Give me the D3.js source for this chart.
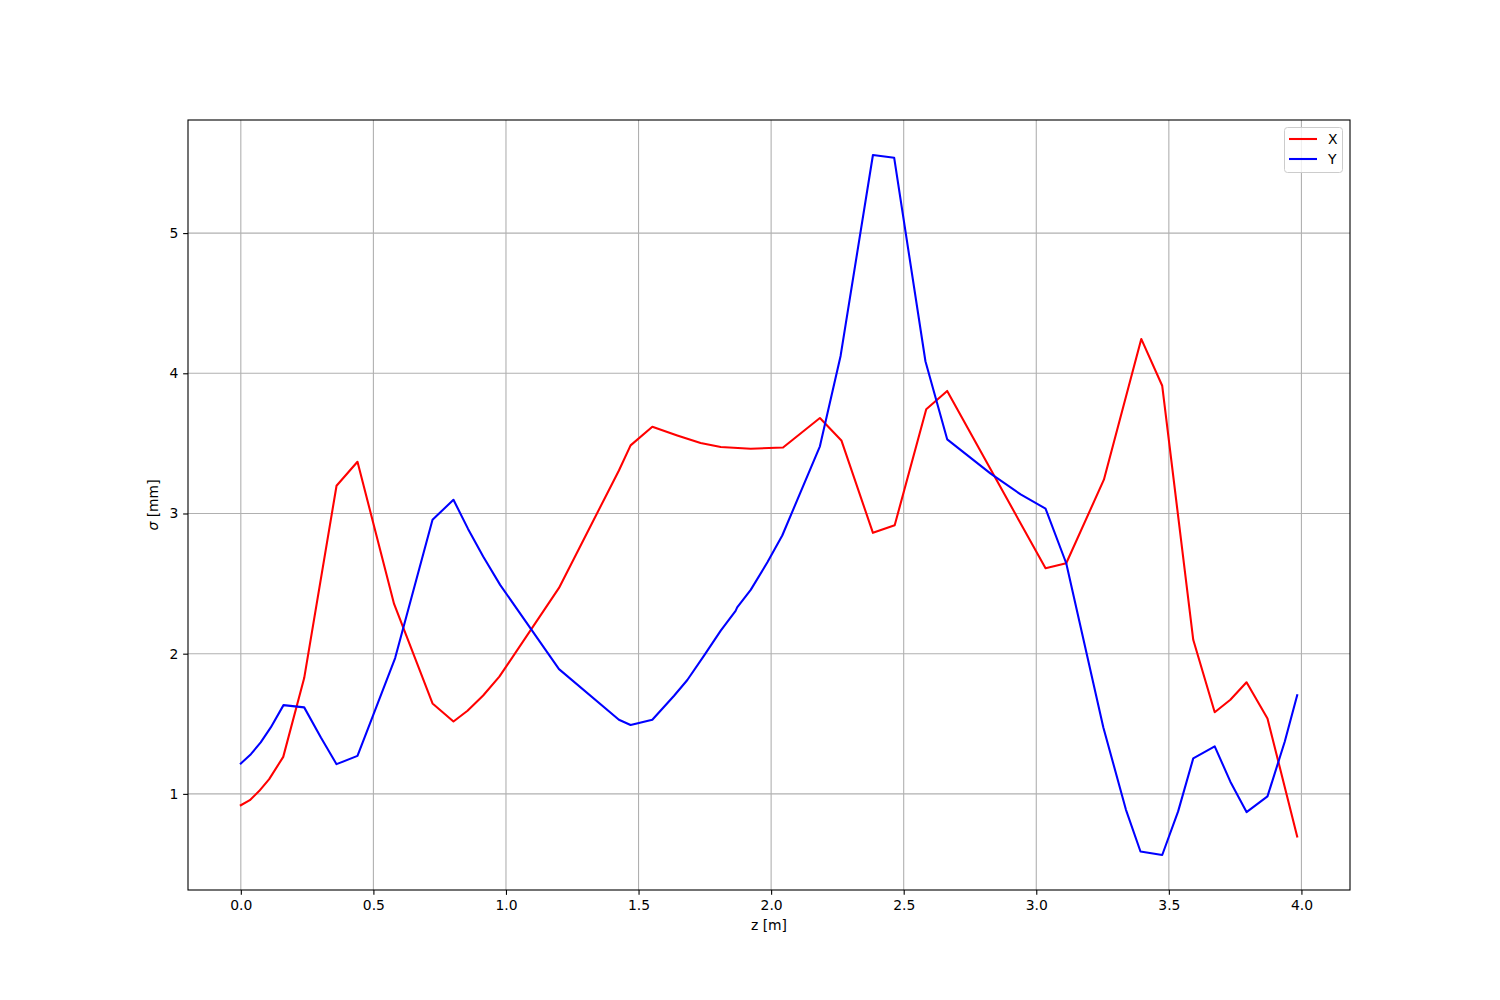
<!DOCTYPE html>
<html><head><meta charset="utf-8">
<script src="https://cdn.jsdelivr.net/npm/d3@7"></script>
<style>body{margin:0;background:#fff;} text{font-family:"DejaVu Sans",sans-serif;}</style>
</head><body>
<svg id="c" width="1500" height="1000"></svg>
<script>
const seriesNames = ["X", "Y"];
const seriesColors = ["red", "blue"];
const xTicks = [0, 0.5, 1.0, 1.5, 2.0, 2.5, 3.0, 3.5, 4.0];
const yTicks = [1, 2, 3, 4, 5];
const zX = [0,0.034,0.069,0.107,0.16,0.239,0.361,0.44,0.578,0.723,0.802,0.855,0.914,0.975,1.2,1.426,1.47,1.552,1.646,1.734,1.81,1.923,2.045,2.184,2.265,2.384,2.466,2.585,2.664,3.035,3.113,3.255,3.396,3.475,3.592,3.673,3.732,3.793,3.872,3.984];
const sigmaX = [0.919,0.955,1.02,1.105,1.264,1.826,3.198,3.369,2.355,1.645,1.516,1.593,1.702,1.836,2.469,3.307,3.486,3.619,3.557,3.502,3.474,3.462,3.471,3.681,3.521,2.862,2.916,3.743,3.874,2.609,2.645,3.241,4.245,3.911,2.099,1.582,1.671,1.796,1.538,0.696];
const zY = [0,0.038,0.075,0.113,0.161,0.239,0.302,0.361,0.44,0.496,0.582,0.723,0.802,0.857,0.914,0.978,1.2,1.426,1.47,1.552,1.634,1.684,1.747,1.81,1.866,1.872,1.923,1.986,2.042,2.184,2.262,2.384,2.464,2.582,2.664,2.828,2.941,3.035,3.113,3.253,3.338,3.393,3.475,3.535,3.592,3.673,3.732,3.793,3.872,3.937,3.984];
const sigmaY = [1.217,1.283,1.367,1.474,1.633,1.617,1.402,1.212,1.271,1.545,1.969,2.955,3.098,2.89,2.693,2.491,1.89,1.529,1.491,1.529,1.7,1.812,1.986,2.164,2.305,2.33,2.455,2.652,2.843,3.479,4.124,5.557,5.538,4.086,3.529,3.284,3.136,3.034,2.645,1.474,0.888,0.589,0.564,0.875,1.253,1.339,1.087,0.870,0.982,1.372,1.704];

const L = 188, R = 1350, T = 120, B = 890;
const svg = d3.select("#c");
const allZ = zX.concat(zY), allS = sigmaX.concat(sigmaY);
const zMin = d3.min(allZ), zMax = d3.max(allZ), sMin = d3.min(allS), sMax = d3.max(allS);
const mx = (zMax - zMin) * 0.05, my = (sMax - sMin) * 0.05;
const x = d3.scaleLinear().domain([zMin - mx, zMax + mx]).range([L, R]);
const y = d3.scaleLinear().domain([sMin - my, sMax + my]).range([B, T]);

// grid
const g = svg.append("g");
g.selectAll(".gx").data(xTicks).enter().append("line")
  .attr("x1", d => x(d)).attr("x2", d => x(d)).attr("y1", T).attr("y2", B)
  .attr("stroke", "#b0b0b0").attr("stroke-width", 1.1);
g.selectAll(".gy").data(yTicks).enter().append("line")
  .attr("y1", d => y(d)).attr("y2", d => y(d)).attr("x1", L).attr("x2", R)
  .attr("stroke", "#b0b0b0").attr("stroke-width", 1.1);

// lines
const line = d3.line().x(d => x(d[0])).y(d => y(d[1]));
const defs = svg.append("defs");
defs.append("clipPath").attr("id", "clip").append("rect").attr("x", L).attr("y", T).attr("width", R - L).attr("height", B - T);
const data = [d3.zip(zX, sigmaX), d3.zip(zY, sigmaY)];
data.forEach((d, i) => {
  svg.append("path").datum(d).attr("d", line).attr("fill", "none")
    .attr("stroke", seriesColors[i]).attr("stroke-width", 2.08)
    .attr("stroke-linejoin", "round").attr("stroke-linecap", "square")
    .attr("clip-path", "url(#clip)");
});

// axes
const xa = svg.append("g").attr("transform", `translate(0,${B})`)
  .call(d3.axisBottom(x).tickValues(xTicks).tickFormat(d3.format(".1f")).tickSize(4.86).tickPadding(4.9));
const ya = svg.append("g").attr("transform", `translate(${L},0)`)
  .call(d3.axisLeft(y).tickValues(yTicks).tickFormat(d3.format("d")).tickSize(4.86).tickPadding(4.9));
[xa, ya].forEach(a => {
  a.select(".domain").remove();
  a.selectAll("line").attr("stroke", "#000").attr("stroke-width", 1.1);
  a.selectAll("text").attr("font-size", "13.9px").attr("fill", "#000").attr("font-family", "DejaVu Sans");
});
svg.append("rect").attr("x", L).attr("y", T).attr("width", R - L).attr("height", B - T)
  .attr("fill", "none").attr("stroke", "#000").attr("stroke-width", 1.1);

// labels
svg.append("text").attr("x", (L + R) / 2).attr("y", 930).attr("text-anchor", "middle")
  .attr("font-size", "13.9px").text("z [m]");
const yl = svg.append("text").attr("transform", `translate(158,${(T + B) / 2}) rotate(-90)`)
  .attr("text-anchor", "middle").attr("font-size", "13.9px");
yl.append("tspan").attr("font-style", "italic").text("σ");
yl.append("tspan").text(" [mm]");

// legend
const lg = svg.append("g");
lg.append("rect").attr("x", 1284.5).attr("y", 127.5).attr("width", 58).attr("height", 45).attr("rx", 3)
  .attr("fill", "#fff").attr("fill-opacity", 0.8).attr("stroke", "#ccc").attr("stroke-width", 1);
seriesNames.forEach((n, i) => {
  const yy = 139 + i * 20;
  lg.append("line").attr("x1", 1289).attr("x2", 1317).attr("y1", yy).attr("y2", yy)
    .attr("stroke", seriesColors[i]).attr("stroke-width", 2.08);
  lg.append("text").attr("x", 1328).attr("y", yy + 5).attr("font-size", "13.9px").text(n);
});
</script>
</body></html>
